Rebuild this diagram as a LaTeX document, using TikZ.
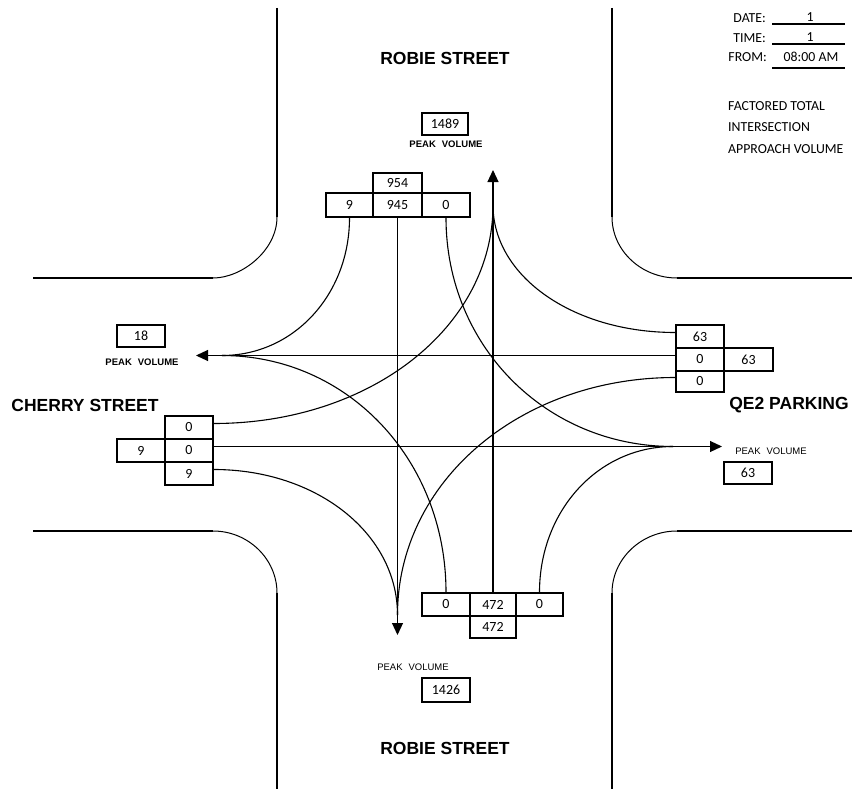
\documentclass[tikz,border=0pt]{standalone}
\usepackage{fontspec}
\setmainfont{Carlito}
\newfontfamily\arialfont{Liberation Sans}
\usetikzlibrary{arrows.meta,calc}

\begin{document}
\begin{tikzpicture}[x=1pt,y=-1pt,
  curb/.style={line width=2.9pt},
  corner/.style={line width=1pt},
  cell/.style={draw,line width=1.5pt,inner sep=0pt,font=\fontsize{14}{15}\selectfont},
  flow/.style={line width=1.1pt},
  exit/.style={line width=1.1pt,-{Triangle[length=12pt,width=11pt]}},
  street/.style={font=\arialfont\bfseries\fontsize{17.5}{18}\selectfont},
  peakb/.style={font=\arialfont\bfseries\fontsize{9.5}{10}\selectfont,inner sep=0pt},
  peak/.style={font=\arialfont\fontsize{9.5}{10}\selectfont,inner sep=0pt},
  note/.style={font=\fontsize{13.8}{14}\selectfont,inner sep=0pt},
  rule/.style={line width=2pt},
  turnv/.style={to path={.. controls ($(\tikztostart)!0.56!(\tikztostart|-\tikztotarget)$) and ($(\tikztotarget)!0.56!(\tikztostart|-\tikztotarget)$) .. (\tikztotarget)}},
  turnh/.style={to path={.. controls ($(\tikztostart)!0.56!(\tikztotarget|-\tikztostart)$) and ($(\tikztotarget)!0.56!(\tikztotarget|-\tikztostart)$) .. (\tikztotarget)}},
]
\useasboundingbox (0,0) rectangle (854,797);

% kerb lines of the four corners
\draw[curb] (277,8) -- (277,217);
\draw[corner] (277,217) .. controls (277,250.5) and (241.8,278) .. (213,278);
\draw[curb] (33,278) -- (213,278);
\draw[curb] (612,8) -- (612,217);
\draw[corner] (612,217) .. controls (612,250.5) and (641.3,278) .. (677,278);
\draw[curb] (677,278) -- (852,278);
\draw[curb] (33,531) -- (213,531);
\draw[corner] (213,531) .. controls (248.2,531) and (277,558.9) .. (277,593);
\draw[curb] (277,593) -- (277,789);
\draw[curb] (677,531) -- (852,531);
\draw[corner] (677,531) .. controls (641.3,531) and (612,558.9) .. (612,593);
\draw[curb] (612,593) -- (612,789);

% street names
\node[street] (robieN) at (445,58) {ROBIE STREET};
\node[street] (robieS) at (445,748) {ROBIE STREET};
\node[street] (cherry) at (85,405) {CHERRY STREET};
\node[street] (qe2) at (789,405) {QE2 PARKING};

% header
\node[note,anchor=east] (dateL) at (766,18) {DATE:};
\node[note] (dateV) at (810,17) {1};
\draw[rule] (772,24) -- (845,24);
\node[note,anchor=east] (timeL) at (766,38) {TIME:};
\node[note] (timeV) at (810,37) {1};
\draw[rule] (772,44) -- (845,44);
\node[note,anchor=east] (fromL) at (767,57) {FROM:};
\node[note] (fromV) at (811,57) {08:00 AM};
\draw[rule] (772,68) -- (845,68);
\node[note,anchor=west] (f1) at (728,106) {FACTORED TOTAL};
\node[note,anchor=west] (f2) at (728,127) {INTERSECTION};
\node[note,anchor=west] (f3) at (728,149) {APPROACH VOLUME};

% peak volumes
\node[cell,minimum width=46pt,minimum height=22pt] (pN) at (445,124) {1489};
\node[peakb] (pNl) at (446,144) {PEAK\hspace{6pt}VOLUME};
\node[cell,minimum width=48pt,minimum height=22pt] (pW) at (141,336) {18};
\node[peakb] (pWl) at (142,362) {PEAK\hspace{6pt}VOLUME};
\node[peak] (pEl) at (771,451) {PEAK\hspace{6pt}VOLUME};
\node[cell,minimum width=48pt,minimum height=22pt] (pE) at (748,473) {63};
\node[peak] (pSl) at (413,667) {PEAK\hspace{6pt}VOLUME};
\node[cell,minimum width=48pt,minimum height=24pt] (pS) at (446,690) {1426};

% north approach
\node[cell,minimum width=47pt,minimum height=24pt] (t1) at (349.5,205) {9};
\node[cell,minimum width=49pt,minimum height=24pt] (t2) at (397.5,205) {945};
\node[cell,minimum width=48pt,minimum height=24pt] (t3) at (446,205) {0};
\node[cell,minimum width=49pt,minimum height=20pt] (tT) at (397.5,183) {954};

% west approach
\node[cell,minimum width=48pt,minimum height=23pt] (l1) at (189,427.5) {0};
\node[cell,minimum width=48pt,minimum height=23pt] (l2) at (189,450.5) {0};
\node[cell,minimum width=48pt,minimum height=23pt] (l3) at (189,473.5) {9};
\node[cell,minimum width=48pt,minimum height=23pt] (lT) at (141,450.5) {9};

% east approach
\node[cell,minimum width=48pt,minimum height=23pt] (r1) at (700,336.5) {63};
\node[cell,minimum width=48pt,minimum height=23pt] (r2) at (700,359.5) {0};
\node[cell,minimum width=48pt,minimum height=21pt] (r3) at (700,381.5) {0};
\node[cell,minimum width=49pt,minimum height=23pt] (rT) at (748.5,359.5) {63};

% south approach
\node[cell,minimum width=48pt,minimum height=23pt] (b1) at (446,604.5) {0};
\node[cell,minimum width=46pt,minimum height=23pt] (b2) at (493,604.5) {472};
\node[cell,minimum width=47pt,minimum height=23pt] (b3) at (539.5,604.5) {0};
\node[cell,minimum width=46pt,minimum height=22pt] (bT) at (493,627) {472};

% lane exits of the side approaches
\coordinate (l1o) at ([yshift=4pt]l1.east);
\coordinate (l2o) at ([yshift=4pt]l2.east);
\coordinate (l3o) at ([yshift=4pt]l3.east);
\coordinate (r1o) at ([yshift=4pt]r1.west);
\coordinate (r2o) at ([yshift=4pt]r2.west);
\coordinate (r3o) at ([yshift=4pt]r3.west);

% departure arrows and merge points
\coordinate (nTip) at (493,170);
\coordinate (nJoin) at (493,205);
\coordinate (wTip) at (196,355.5);
\coordinate (wJoin) at (222,355.5);
\coordinate (sTip) at (397.5,635);
\coordinate (sJoin) at (397.5,615);
\coordinate (eTip) at (722,446.5);
\coordinate (eJoin) at (673,446.5);

% through movements
\draw[exit] (b2.north) -- (nTip);
\draw[exit] (r2o) -- (wTip);
\draw[exit] (t2.south) -- (sTip);
\draw[exit] (l2o) -- (eTip);

% turning movements
\draw[flow] (t1.south) to[turnv] (wJoin);
\draw[flow] (t3.south) to[turnv] (eJoin);
\draw[flow] (b1.north) to[turnv] (wJoin);
\draw[flow] (b3.north) to[turnv] (eJoin);
\draw[flow] (l1o) to[turnh] (nJoin);
\draw[flow] (l3o) to[turnh] (sJoin);
\draw[flow] (r1o) to[turnh] (nJoin);
\draw[flow] (r3o) to[turnh] (sJoin);
\end{tikzpicture}
\end{document}
